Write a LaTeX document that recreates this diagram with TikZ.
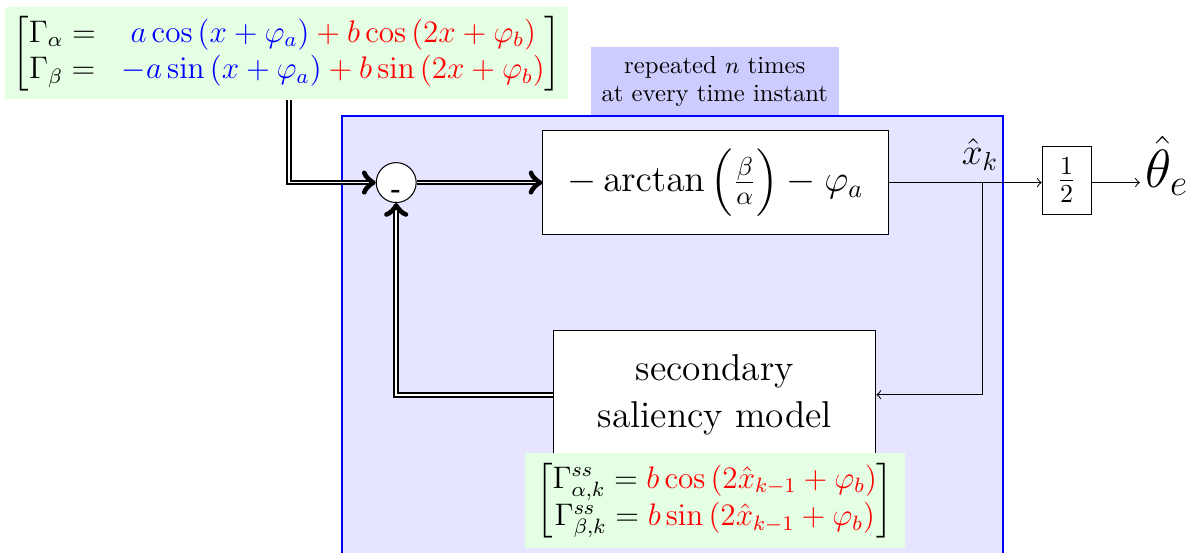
\documentclass[tikz,border=0pt]{standalone}
\usepackage{amsmath}
\tikzset{
    block/.style={rectangle,draw,fill=white},
    eqbox/.style={rectangle,fill=green!10,inner sep=2pt,font=\large},
    dbl/.style={double,thick,->}
}
\begin{document}
\begin{tikzpicture}
        \clip (0,0) rectangle (16.18,7.47);
        \draw[semithick,blue,fill=blue!10] (4.63,-0.5) rectangle (13.57,5.90);
        \node[rectangle,fill=blue!20,minimum width=3.35cm,minimum height=0.92cm,align=center,font={\fontsize{9.5}{11}\selectfont}] at (9.67,6.37) (rep) {repeated $n$ times\\at every time instant};
        \node[eqbox,minimum width=7.62cm,minimum height=1.25cm] at (3.88,6.75) (gamma) {$\begin{bmatrix}\Gamma_\alpha = & \color{blue}a\cos\left(x+\varphi_a\right)\color{red}+b\cos\left(2x+\varphi_b\right)\\ \Gamma_\beta = & \color{blue}-a\sin\left(x+\varphi_a\right)\color{red}+b\sin\left(2x+\varphi_b\right)\end{bmatrix}$};
        \node[circle,draw,fill=white,minimum size=0.54cm,inner sep=0pt] at (5.36,5.0) (sum) {};
        \node[inner sep=0pt] at (5.36,4.85) (minus) {\textbf{-}};
        \node[block,minimum width=4.67cm,minimum height=1.41cm,font=\Large] at (9.68,5.0) (arct) {$-\arctan\left(\frac{\beta}{\alpha}\right)-\varphi_a$};
        \node[block,minimum width=0.66cm,minimum height=0.92cm,font=\Large] at (14.43,5.03) (half) {$\frac{1}{2}$};
        \node[anchor=base west,inner sep=2pt,font=\huge] at (15.42,4.93) (theta) {$\hat{\theta}_e$};
        \node[anchor=base,font=\Large] at (13.26,5.24) (xk) {$\hat{x}_k$};
        \coordinate (split) at (13.29,5.0);
        \coordinate (gin) at (3.91,0);
        \node[block,minimum width=4.36cm,minimum height=1.74cm,align=center,font=\Large] at (9.67,2.13) (ssm) {secondary\\saliency model};
        \node[eqbox,minimum width=5.14cm,minimum height=1.29cm] at (9.67,0.70) (gss) {$\begin{bmatrix}\Gamma^{ss}_{\alpha,k} = \color{red}b\cos\left(2\hat{x}_{k-1}+\varphi_b\right)\\ \Gamma^{ss}_{\beta,k} = \color{red}b\sin\left(2\hat{x}_{k-1}+\varphi_b\right)\end{bmatrix}$};
        \draw[dbl] (gamma.south -| gin) |- (sum);
        \draw[dbl] (sum) -- (arct);
        \draw[dbl] (ssm.west) -| (sum);
        \draw[->] (arct) -- (arct -| half.west);
        \draw[->] (arct -| half.east) -- (arct -| theta.west);
        \draw[->] (split) |- (ssm);
\end{tikzpicture}
\end{document}
